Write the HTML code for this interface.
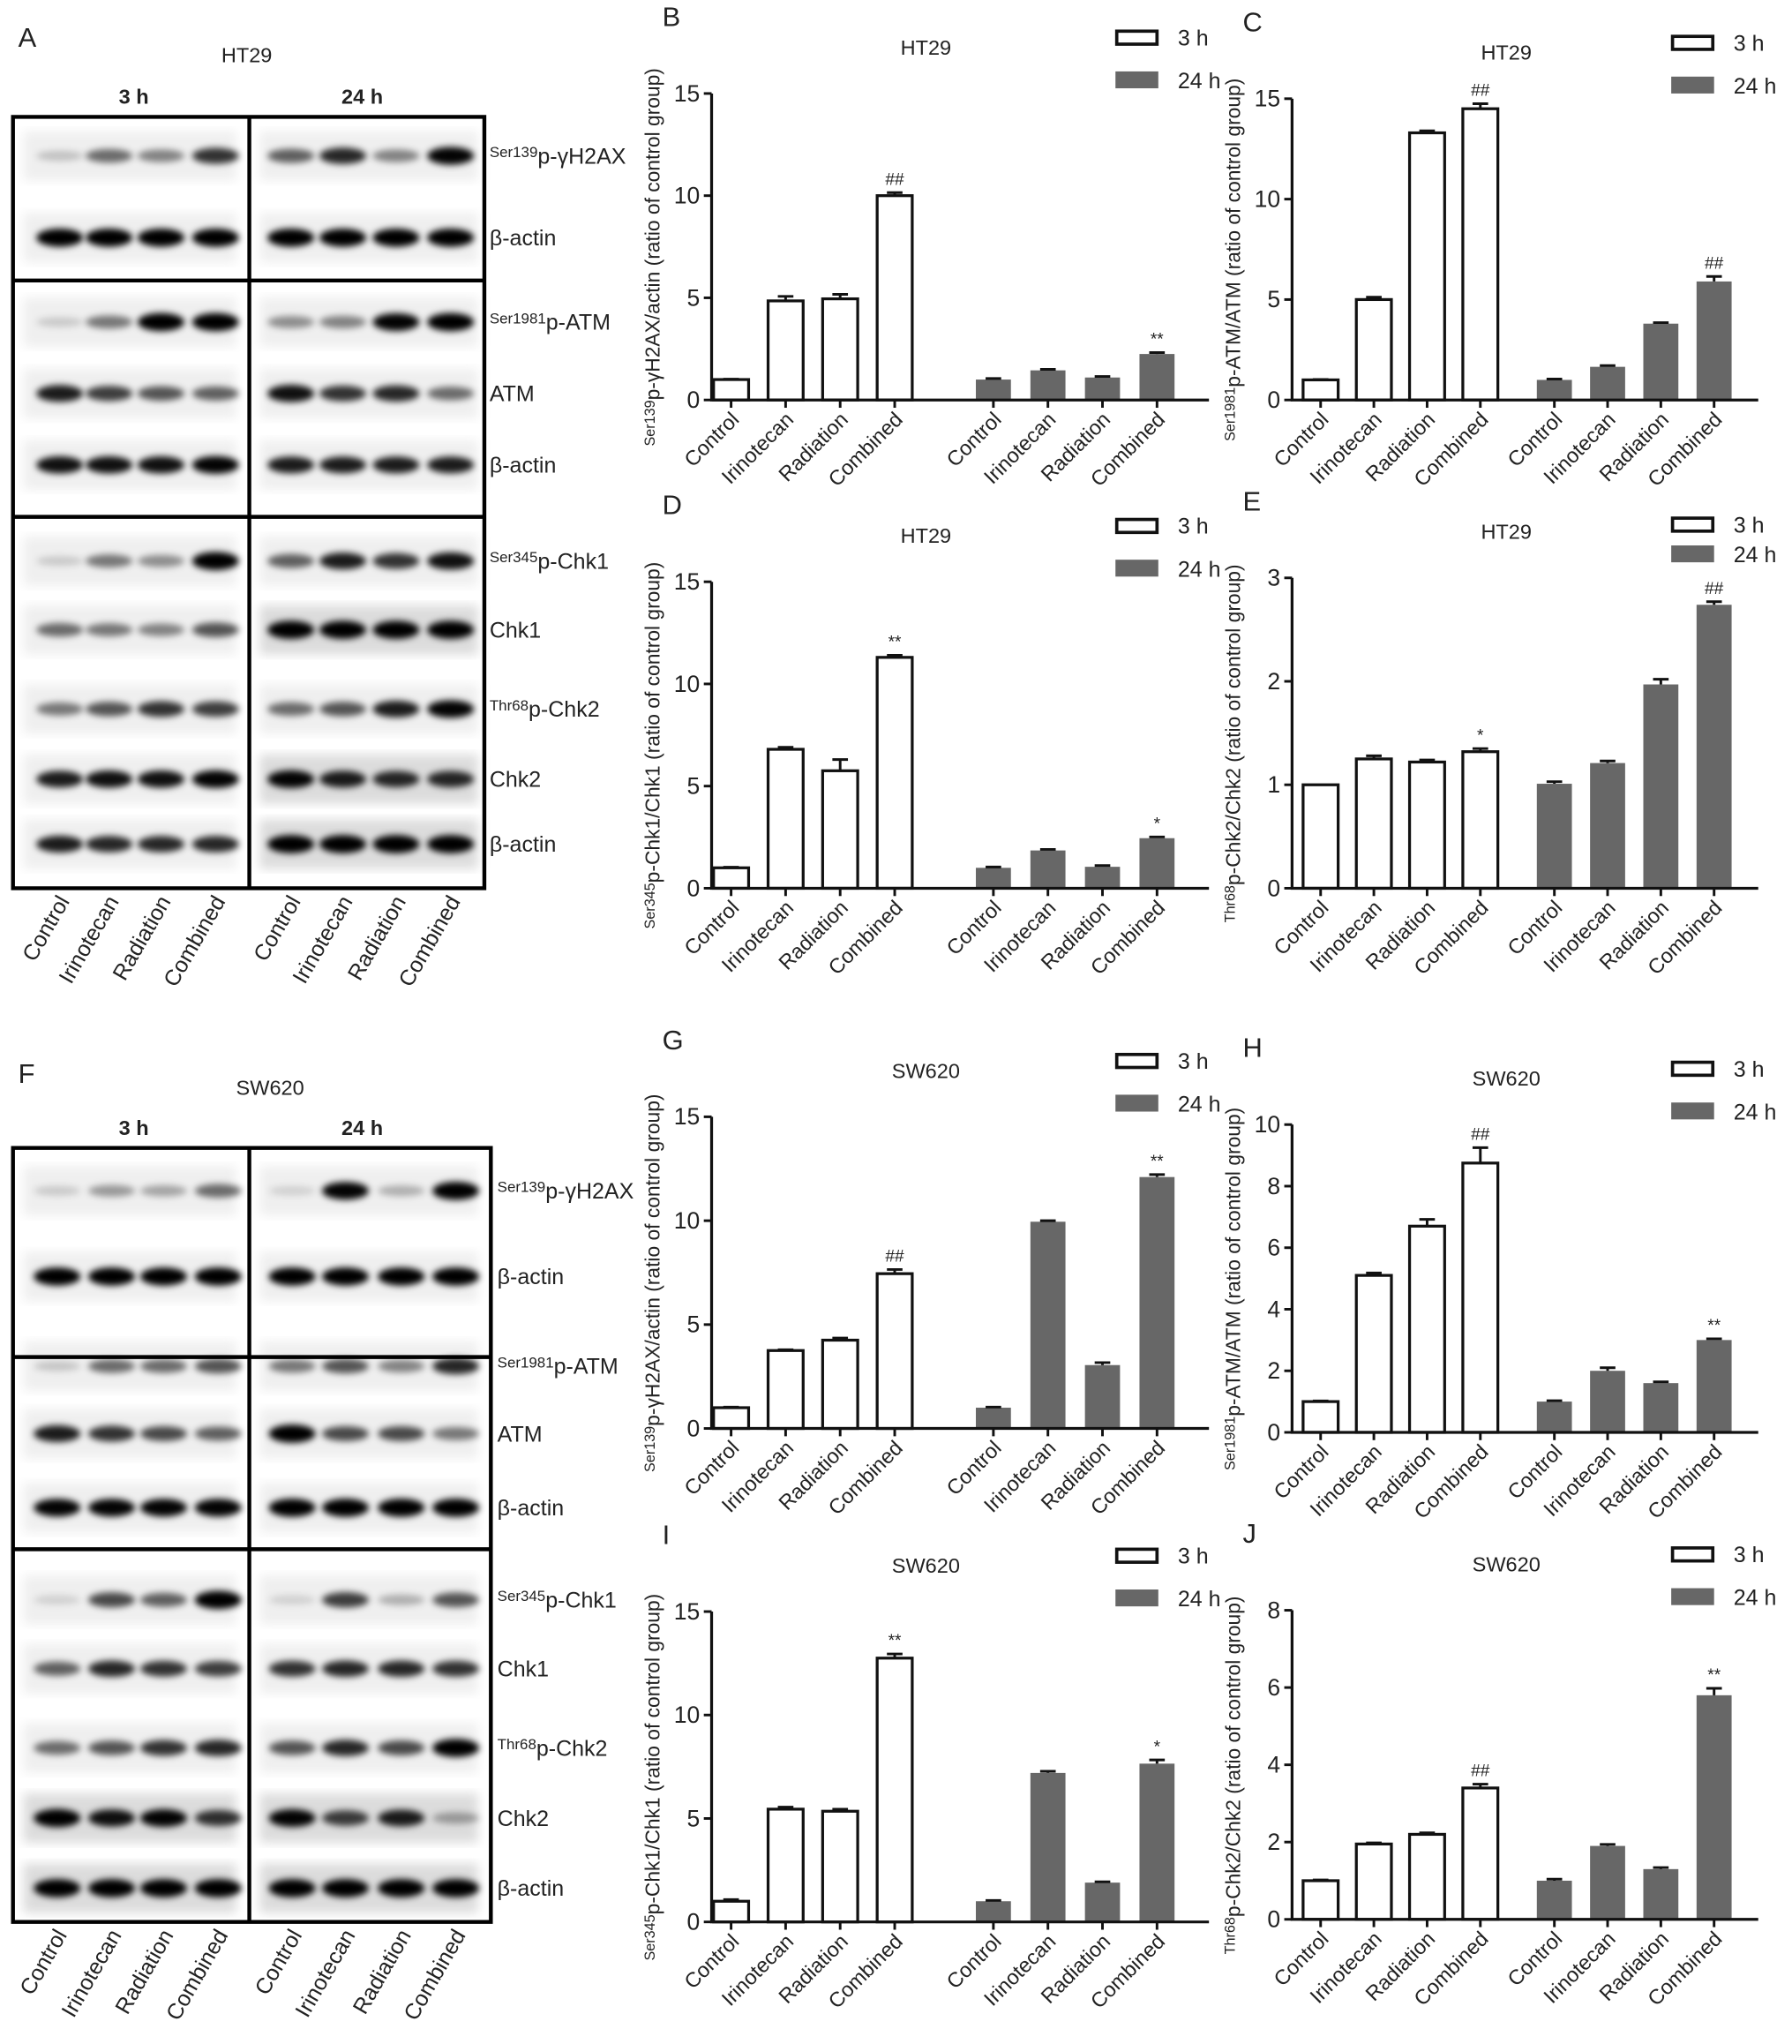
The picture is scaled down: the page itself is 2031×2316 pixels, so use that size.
<!DOCTYPE html>
<html><head><meta charset="utf-8"><style>
html,body{margin:0;padding:0;background:#fff}
svg{display:block;font-family:"Liberation Sans",Arial,sans-serif}
</style></head><body>
<svg id="fig" xmlns="http://www.w3.org/2000/svg" width="2031" height="2316" viewBox="0 0 1380 1574" preserveAspectRatio="none">
<defs><filter id="blur" x="-30%" y="-80%" width="160%" height="260%"><feGaussianBlur stdDeviation="2.6"/></filter>
<filter id="blur2"><feGaussianBlur stdDeviation="4"/></filter></defs>
</svg>
<script>
const NS='http://www.w3.org/2000/svg';
const svg=document.getElementById('fig');
function mk(tag,attrs,parent){const e=document.createElementNS(NS,tag);for(const k in attrs)e.setAttribute(k,attrs[k]);(parent||svg).appendChild(e);return e;}

// ---------- data ----------
const categories=['Control','Irinotecan','Radiation','Combined'];
const seriesNames=['3 h','24 h'];
const bVals3h=[1,4.85,4.95,10.0]; const bErr3h=[0.02,0.22,0.22,0.15]; const bVals24h=[1.0,1.45,1.1,2.25]; const bErr24h=[0.05,0.05,0.05,0.07];
const cVals3h=[1,5.0,13.3,14.5]; const cErr3h=[0.02,0.12,0.1,0.25]; const cVals24h=[1.0,1.65,3.8,5.9]; const cErr24h=[0.04,0.06,0.05,0.25];
const dVals3h=[1,6.8,5.75,11.3]; const dErr3h=[0.03,0.1,0.55,0.1]; const dVals24h=[1.0,1.85,1.05,2.45]; const dErr24h=[0.04,0.05,0.06,0.06];
const eVals3h=[1,1.25,1.22,1.32]; const eErr3h=[0,0.03,0.02,0.03]; const eVals24h=[1.01,1.21,1.97,2.74]; const eErr24h=[0.02,0.02,0.05,0.03];
const gVals3h=[1,3.75,4.25,7.45]; const gErr3h=[0.03,0.04,0.1,0.2]; const gVals24h=[1.0,9.95,3.05,12.1]; const gErr24h=[0.03,0.05,0.12,0.12];
const hVals3h=[1,5.1,6.7,8.75]; const hErr3h=[0.02,0.08,0.22,0.5]; const hVals24h=[1.0,2.0,1.6,3.0]; const hErr24h=[0.03,0.1,0.04,0.04];
const iVals3h=[1,5.45,5.35,12.75]; const iErr3h=[0.08,0.1,0.1,0.2]; const iVals24h=[1.0,7.2,1.9,7.65]; const iErr24h=[0.04,0.08,0.04,0.18];
const jVals3h=[1,1.95,2.2,3.4]; const jErr3h=[0.02,0.03,0.04,0.1]; const jVals24h=[1.0,1.9,1.3,5.8]; const jErr24h=[0.04,0.04,0.04,0.18];
const ticks15=[0,5,10,15]; const ticks3=[0,1,2,3]; const ticks10=[0,2,4,6,8,10]; const ticks8=[0,2,4,6,8];

// ---------- chart drawing ----------
function txt(x,y,s,size,anchor,parent){const t=mk('text',{x:x,y:y,'font-size':size,'text-anchor':anchor||'start',fill:'#222'},parent);t.textContent=s;return t;}
function drawChart(c){
  const g=mk('g',{});
  
  
  const sp=c.sp,first=c.first,gap=c.gap,end=c.end,bw=27;
  const xc=(i,grp)=>c.x0+first+i*sp+grp*(3*sp+gap);
  const ys=v=>c.y0-v/c.ymax*(c.y0-c.ytop);
  const xEnd=c.x0+first+6*sp+gap+end;
  const L=txt(c.x0-38,c.y0-(c.y0-c.ytop)-52,c.letter,21,'start',g);
  
  
  const T=txt(c.x0+165,c.ytop-30,c.title,16,'middle',g);
  
  
  const sets=[[c.v3,c.e3,c.a3],[c.v24,c.e24,c.a24]];
  sets.forEach((s,grp)=>{
    s[0].forEach((v,i)=>{
      const x=xc(i,grp);const top=ys(v);
      const r=mk('rect',{x:x-bw/2,y:top,width:bw,height:c.y0-top,fill:grp?'#676767':'#fff',stroke:grp?'none':'#111','stroke-width':grp?0:2.2},g);
      
      
      const et=ys(v+s[1][i]);
      if(s[1][i]>0){
        const eb=mk('path',{d:`M${x},${top} V${et} M${x-6},${et} H${x+6}`,stroke:'#111','stroke-width':2,fill:'none'},g);
        
        
      }
      if(i===3&&s[2]){
        const a=txt(x,et-6,s[2],13,'middle',g);
        
        
      }
      mk('line',{x1:x,y1:c.y0,x2:x,y2:c.y0+6,stroke:'#111','stroke-width':2},g);
      const xl=mk('text',{x:0,y:0,'font-size':16,'text-anchor':'end',fill:'#222',transform:`translate(${x+7},${c.y0+16}) rotate(-45)`},g);
      xl.textContent=categories[i];
      
      
    });
  });
  const ax=mk('path',{d:`M${c.x0},${c.ytop} V${c.y0} H${xEnd}`,stroke:'#111','stroke-width':2.2,fill:'none'},g);
  
  
  c.ticks.forEach(t=>{
    const y=ys(t);
    mk('line',{x1:c.x0-6,y1:y,x2:c.x0,y2:y,stroke:'#111','stroke-width':2},g);
    const tl=txt(c.x0-9,y+6,String(t),18,'end',g);
    
    
  });
  const yt=mk('text',{x:0,y:0,'font-size':15.5,'text-anchor':'middle',fill:'#222',transform:`translate(${c.x0-40},${(c.y0+c.ytop)/2+8}) rotate(-90)`},g);
  
  
  const sup=mk('tspan',{'font-size':11,dy:-4},yt);sup.textContent=c.sup;
  const main=mk('tspan',{dy:4},yt);main.textContent=c.ylabel;
  const lx=c.legX,ly=c.ytop-(c.legTight?38:40);
  const l1=mk('rect',{x:lx,y:ly-8,width:31,height:10,fill:'#fff',stroke:'#111','stroke-width':2.5},g);
  
  
  const lt1=txt(lx+47,ly+3,'3 h',17,'start',g);
  
  
  const d=c.legTight?22:32;
  const l2=mk('rect',{x:lx-1,y:ly-9+d,width:33,height:13,fill:'#676767'},g);
  
  
  const lt2=txt(lx+47,ly+4+d,'24 h',17,'start',g);
  
  
}
const LEFT={x0:548,first:15,sp:42,gap:76,end:40,legX:860};
const RIGHT={x0:995,first:22,sp:41,gap:57,end:34,legX:1288};
function C(side,o){return Object.assign({},side,o);}
drawChart(C(LEFT,{id:'b',letter:'B',title:'HT29',y0:308,ytop:72,ymax:15,ticks:ticks15,v3:bVals3h,e3:bErr3h,v24:bVals24h,e24:bErr24h,a3:'##',a24:'**',sup:'Ser139',ylabel:'p-γH2AX/actin (ratio of control group)'}));
drawChart(C(RIGHT,{id:'c',letter:'C',title:'HT29',y0:308,ytop:76,ymax:15,ticks:ticks15,v3:cVals3h,e3:cErr3h,v24:cVals24h,e24:cErr24h,a3:'##',a24:'##',sup:'Ser1981',ylabel:'p-ATM/ATM (ratio of control group)'}));
drawChart(C(LEFT,{id:'d',letter:'D',title:'HT29',y0:684,ytop:448,ymax:15,ticks:ticks15,v3:dVals3h,e3:dErr3h,v24:dVals24h,e24:dErr24h,a3:'**',a24:'*',sup:'Ser345',ylabel:'p-Chk1/Chk1 (ratio of control group)'}));
drawChart(C(RIGHT,{id:'e',letter:'E',title:'HT29',y0:684,ytop:445,ymax:3,ticks:ticks3,v3:eVals3h,e3:eErr3h,v24:eVals24h,e24:eErr24h,a3:'*',a24:'##',legTight:true,sup:'Thr68',ylabel:'p-Chk2/Chk2 (ratio of control group)'}));
drawChart(C(LEFT,{id:'g',letter:'G',title:'SW620',y0:1100,ytop:860,ymax:15,ticks:ticks15,v3:gVals3h,e3:gErr3h,v24:gVals24h,e24:gErr24h,a3:'##',a24:'**',sup:'Ser139',ylabel:'p-γH2AX/actin (ratio of control group)'}));
drawChart(C(RIGHT,{id:'h',letter:'H',title:'SW620',y0:1103,ytop:866,ymax:10,ticks:ticks10,v3:hVals3h,e3:hErr3h,v24:hVals24h,e24:hErr24h,a3:'##',a24:'**',sup:'Ser1981',ylabel:'p-ATM/ATM (ratio of control group)'}));
drawChart(C(LEFT,{id:'i',letter:'I',title:'SW620',y0:1480,ytop:1241,ymax:15,ticks:ticks15,v3:iVals3h,e3:iErr3h,v24:iVals24h,e24:iErr24h,a3:'**',a24:'*',sup:'Ser345',ylabel:'p-Chk1/Chk1 (ratio of control group)'}));
drawChart(C(RIGHT,{id:'j',letter:'J',title:'SW620',y0:1478,ytop:1240,ymax:8,ticks:ticks8,v3:jVals3h,e3:jErr3h,v24:jVals24h,e24:jErr24h,a3:'##',a24:'**',sup:'Thr68',ylabel:'p-Chk2/Chk2 (ratio of control group)'}));

// ---------- western blots ----------
const blotA=[[.12,.5,.4,.75,.55,.8,.4,.95],[1,1,1,1,1,1,1,1],[.08,.45,1,1,.35,.4,.95,1],[.85,.7,.6,.55,.9,.75,.8,.5],[.9,.9,.9,.95,.85,.85,.85,.85],[.08,.45,.35,1,.55,.85,.75,.9],[.5,.45,.4,.6,1,1,1,1],[.45,.6,.75,.7,.5,.6,.85,.95],[.85,.9,.9,.95,.95,.85,.8,.8],[.85,.8,.8,.8,1,1,1,1]];
const blotF=[[.08,.3,.25,.5,.05,.95,.2,1],[1,1,1,1,1,1,1,1],[.1,.5,.5,.6,.45,.6,.4,.8],[.85,.75,.65,.55,1,.65,.65,.45],[.95,.95,.95,.95,1,1,1,1],[.05,.65,.55,1,.05,.7,.2,.6],[.55,.8,.75,.7,.75,.8,.8,.75],[.5,.6,.75,.8,.6,.8,.65,1],[1,.9,.95,.75,.95,.7,.85,.25],[1,1,1,1,1,1,1,1]];
const labelsA=[['Ser139','p-γH2AX'],['','β-actin'],['Ser1981','p-ATM'],['','ATM'],['','β-actin'],['Ser345','p-Chk1'],['','Chk1'],['Thr68','p-Chk2'],['','Chk2'],['','β-actin']];
function drawBlot(b){
  const g=mk('g',{});
  
  
  const L=txt(14,b.letterY,b.letter,21,'start',g);
  
  
  const T=txt(b.titleX,b.titleY,b.title,16,'middle',g);
  
  
  const h1=txt(103,b.top-10,'3 h',16,'middle',g);h1.setAttribute('font-weight','bold');
  
  
  const h2=txt(279,b.top-10,'24 h',16,'middle',g);h2.setAttribute('font-weight','bold');
  
  
  b.rows.forEach((ry,r)=>{
    [[18,182],[200,368]].forEach((xr,p)=>{
      const strip=mk('rect',{x:xr[0],y:ry-19,width:xr[1]-xr[0],height:38,fill:b.data[r][p*4]>0.9&&r>5?'#dcdcdc':'#efefef',filter:'url(#blur2)'},g);
      
      
      for(let k=0;k<4;k++){
        const lx=p?b.lanes24[k]:b.lanes3[k];
        const v=b.data[r][p*4+k];
        const e=mk('ellipse',{cx:lx,cy:ry,rx:18,ry:3.5+v*3.5,fill:'#000','fill-opacity':Math.min(1,0.08+v*0.95),filter:'url(#blur)'},g);
        
        
      }
    });
    const t=mk('text',{x:b.labX,y:ry+6,'font-size':17,fill:'#222'},g);
    
    
    if(labelsA[r][0]){const s=mk('tspan',{'font-size':11.5,dy:-5},t);s.textContent=labelsA[r][0];const m=mk('tspan',{dy:5},t);m.textContent=labelsA[r][1];}
    else t.textContent=labelsA[r][1];
  });
  const frame=mk('path',{d:`M10,${b.top} H${b.right} V${b.bottom} H10 Z M192,${b.top} V${b.bottom} M10,${b.div1} H${b.right} M10,${b.div2} H${b.right}`,stroke:'#000','stroke-width':3,fill:'none'},g);
  
  
  b.lanes3.concat(b.lanes24).forEach((lx,i)=>{
    const xl=mk('text',{x:0,y:0,'font-size':17,'text-anchor':'end',fill:'#222',transform:`translate(${lx+8},${b.bottom+10}) rotate(-60)`},g);
    xl.textContent=categories[i%4];
    
    
  });
}
drawBlot({id:'a',letter:'A',letterY:36,title:'HT29',titleX:190,titleY:48,top:90,bottom:684,right:373,div1:216,div2:398,rows:[120,183,248,303,358,432,485,546,600,650],lanes3:[46,84,124,166],lanes24:[224,264,305,347],labX:377,data:blotA});
drawBlot({id:'f',letter:'F',letterY:834,title:'SW620',titleX:208,titleY:843,top:884,bottom:1480,right:378,div1:1045,div2:1193,rows:[917,983,1052,1104,1161,1232,1285,1346,1400,1454],lanes3:[44,86,126,168],lanes24:[225,266,309,351],labX:383,data:blotF});
</script>
</body></html>
